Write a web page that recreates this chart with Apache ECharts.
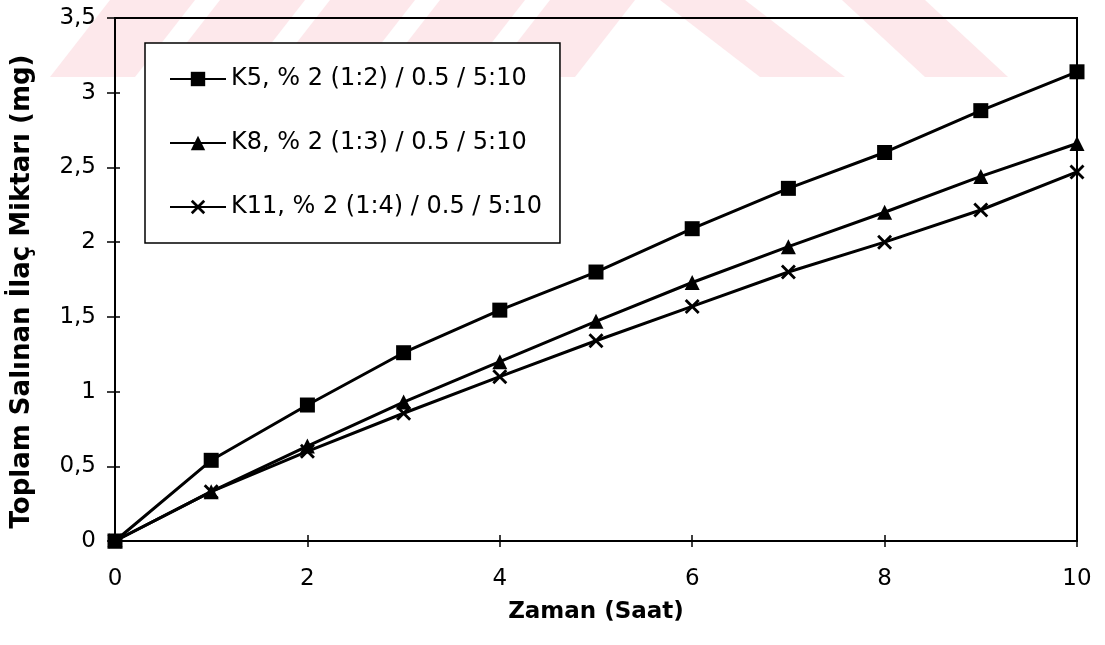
<!DOCTYPE html>
<html>
<head>
<meta charset="utf-8">
<script src="https://cdn.jsdelivr.net/npm/echarts@6/dist/echarts.min.js"></script>
<style>
  html, body { margin: 0; padding: 0; background: #fff; }
  #chart { width: 1105px; height: 645px; }
</style>
</head>
<body>
<div id="chart"></div>
<script>
// data
const hours = [0, 1, 2, 3, 4, 5, 6, 7, 8, 9, 10]
const k5 = [0, 0.54, 0.91, 1.26, 1.545, 1.8, 2.09, 2.36, 2.6, 2.88, 3.14]
const k8 = [0, 0.33, 0.635, 0.93, 1.2, 1.47, 1.73, 1.97, 2.2, 2.44, 2.66]
const k11 = [0, 0.33, 0.6, 0.855, 1.1, 1.34, 1.57, 1.8, 2.0, 2.215, 2.47]
const seriesNames = [
  'K5, % 2 (1:2) / 0.5 / 5:10',
  'K8, % 2 (1:3) / 0.5 / 5:10',
  'K11, % 2 (1:4) / 0.5 / 5:10'
]

const pair = arr => hours.map((h, i) => [h, arr[i]])
const comma = v => String(v).replace('.', ',')
const xMark = 'path://M0,1.6L1.6,0L6,4.4L10.4,0L12,1.6L7.6,6L12,10.4L10.4,12L6,7.6L1.6,12L0,10.4L4.4,6Z'

// pale watermark stripes along the top edge
const pink = '#fde8eb'
const stripes = []
;[50, 160, 270, 380, 490].forEach(b => {
  stripes.push([[b, 77], [b + 85, 77], [b + 145, 0], [b + 60, 0]])
})
stripes.push([[660, 0], [745, 0], [845, 77], [760, 77]])
stripes.push([[842, 0], [925, 0], [1008, 77], [925, 77]])

const chart = echarts.init(document.getElementById('chart'))

chart.setOption({
  animation: false,
  backgroundColor: '#fff',
  textStyle: { fontFamily: 'DejaVu Sans', color: '#000' },
  graphic: stripes.map(pts => ({
    type: 'polygon',
    z: -10,
    silent: true,
    shape: { points: pts },
    style: { fill: pink }
  })),
  grid: {
    left: 115,
    right: 28,
    top: 18,
    bottom: 104,
    outerBoundsMode: 'none',
    containLabel: false,
    show: true,
    borderColor: '#000',
    borderWidth: 2,
    backgroundColor: 'transparent'
  },
  legend: {
    orient: 'vertical',
    left: 145,
    top: 43,
    padding: [24, 18, 24, 24],
    itemGap: 40,
    itemWidth: 56,
    itemHeight: 18,
    backgroundColor: '#fff',
    borderColor: '#000',
    borderWidth: 1.5,
    textStyle: { fontSize: 24, lineHeight: 24, color: '#000', fontFamily: 'DejaVu Sans' },
    data: seriesNames
  },
  xAxis: [{
    type: 'value',
    min: 0,
    max: 10,
    interval: 2,
    name: 'Zaman (Saat)',
    nameLocation: 'middle',
    nameGap: 60,
    nameTextStyle: { fontSize: 23, fontWeight: 'bold', color: '#000' },
    axisLine: { lineStyle: { color: '#000', width: 2 } },
    axisTick: { length: 6, lineStyle: { color: '#000', width: 1.5 } },
    axisLabel: { fontSize: 23, color: '#000', margin: 27 },
    splitLine: { show: false }
  }, {
    type: 'value',
    min: 0,
    max: 10,
    interval: 2,
    position: 'bottom',
    axisLine: { show: false },
    axisTick: { inside: true, length: 6, lineStyle: { color: '#000', width: 1.5 } },
    axisLabel: { show: false },
    splitLine: { show: false }
  }],
  yAxis: [{
    type: 'value',
    min: 0,
    max: 3.5,
    interval: 0.5,
    name: 'Toplam Salınan İlaç Miktarı (mg)',
    nameLocation: 'middle',
    nameGap: 80,
    nameTextStyle: { fontSize: 26, fontWeight: 'bold', color: '#000', padding: [0, 24, 0, 0] },
    axisLine: { show: true, lineStyle: { color: '#000', width: 2 } },
    axisTick: { show: true, length: 8, lineStyle: { color: '#000', width: 1.5 } },
    axisLabel: { fontSize: 23, color: '#000', margin: 19, formatter: comma },
    splitLine: { show: false }
  }, {
    type: 'value',
    min: 0,
    max: 3.5,
    interval: 0.5,
    position: 'left',
    axisLine: { show: false },
    axisTick: { show: true, inside: true, length: 5, lineStyle: { color: '#000', width: 1.5 } },
    axisLabel: { show: false },
    splitLine: { show: false }
  }],
  series: [{
    name: seriesNames[0],
    type: 'line',
    data: pair(k5),
    symbol: 'rect',
    symbolSize: 15,
    lineStyle: { color: '#000', width: 3 },
    itemStyle: { color: '#000' }
  }, {
    name: seriesNames[1],
    type: 'line',
    data: pair(k8),
    symbol: 'triangle',
    symbolSize: 15,
    lineStyle: { color: '#000', width: 3 },
    itemStyle: { color: '#000' }
  }, {
    name: seriesNames[2],
    type: 'line',
    data: pair(k11),
    symbol: xMark,
    symbolSize: 15,
    lineStyle: { color: '#000', width: 3 },
    itemStyle: { color: '#000' }
  }]
})
</script>
</body>
</html>
